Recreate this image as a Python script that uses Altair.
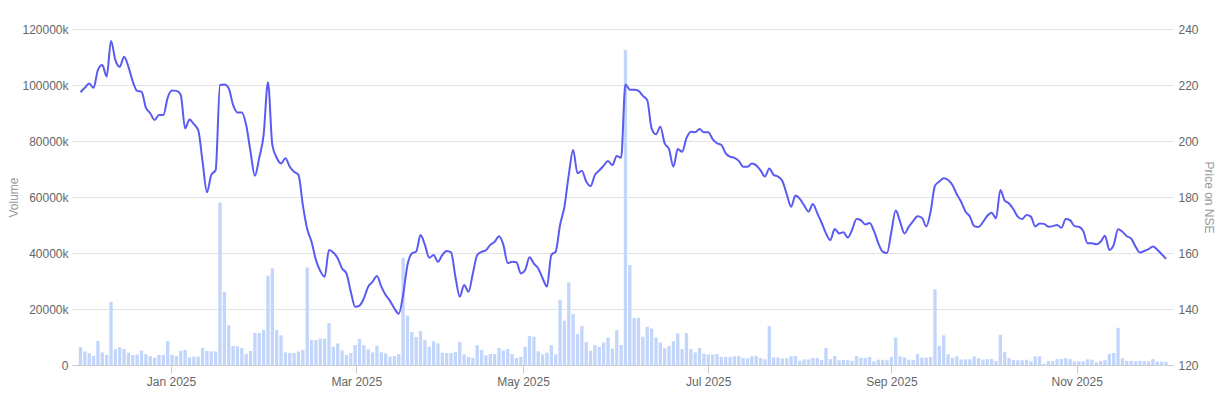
import altair as alt
import pandas as pd

# Daily traded volume (in thousands) for each trading session, Dec 2024 - Nov 2025
volume_k = [
    6400, 4800, 4200, 3300, 8600, 4500, 3600, 22600, 5600, 6300,
    5700, 4400, 3600, 3800, 5100, 3900, 3200, 2600, 3600, 3600,
    8600, 3600, 3200, 5100, 5400, 2700, 3000, 3000, 6100, 5000,
    4900, 4800, 58000, 26100, 14200, 6800, 6700, 6000, 4000, 5000,
    11500, 11400, 12500, 31900, 34500, 12500, 10600, 4500, 4300, 4300,
    4800, 5400, 34800, 8900, 8900, 9400, 9400, 15000, 6500, 7700,
    5200, 3600, 4300, 7100, 9300, 7100, 5600, 4500, 6900, 4500,
    4200, 3000, 3200, 3900, 38300, 17600, 11800, 10000, 12100, 8900,
    6500, 8500, 7700, 4400, 4300, 4300, 4600, 8300, 3800, 2900,
    2600, 7100, 5400, 3500, 3900, 3900, 6100, 5200, 5700, 3900,
    2500, 2900, 6500, 10400, 10100, 4900, 3800, 4400, 7100, 3800,
    23300, 15800, 29500, 18200, 11100, 13900, 8200, 5100, 7100, 6500,
    8000, 9800, 5800, 12500, 7100, 112500, 35700, 16800, 16900, 10100,
    13600, 13000, 9800, 8000, 6000, 6800, 8500, 11300, 5700, 11400,
    5700, 4500, 6100, 4000, 3700, 3700, 3900, 2900, 2900, 2900,
    3100, 3100, 2500, 2400, 3100, 3300, 2500, 2000, 13900, 2700,
    2600, 2300, 2400, 3100, 3200, 1500, 2000, 2000, 2500, 2500,
    1800, 6100, 2100, 3200, 1700, 1800, 1700, 1500, 3200, 2600,
    2500, 2900, 1300, 1900, 1900, 1700, 2900, 9800, 3100, 2700,
    1900, 1800, 3900, 2600, 2600, 2900, 27000, 6800, 10600, 3800,
    2600, 3100, 2000, 2000, 2000, 3100, 2400, 1900, 2100, 2100,
    1400, 10800, 4600, 2500, 1800, 1700, 1700, 1900, 1300, 3100,
    3100, 400, 1400, 1400, 2100, 2100, 2400, 2100, 1300, 1300,
    1300, 2000, 1900, 1000, 1400, 1700, 4000, 4300, 13300, 2400,
    1500, 1500, 1400, 1500, 1400, 1300, 2100, 1200, 1200, 1100,
]

# Closing price on NSE for each trading session
price = [
    217.4, 219.0, 220.5, 219.0, 225.4, 227.1, 223.0, 235.7, 228.9, 226.5,
    230.1, 226.5, 221.2, 217.9, 217.6, 211.9, 209.9, 207.5, 209.3, 209.3,
    215.5, 218.0, 217.9, 216.4, 204.5, 207.7, 206.0, 203.9, 192.6, 181.7,
    187.9, 189.6, 220.0, 220.2, 218.8, 212.9, 210.2, 210.2, 205.7, 196.2,
    187.6, 194.0, 202.1, 221.0, 198.6, 194.0, 192.0, 193.8, 190.8, 189.0,
    187.9, 177.1, 168.6, 164.0, 157.5, 153.6, 151.5, 161.1, 160.2, 158.1,
    154.5, 152.7, 146.2, 140.8, 141.2, 143.8, 148.0, 149.8, 151.8, 148.0,
    145.0, 142.9, 140.2, 138.3, 145.0, 155.7, 159.8, 160.5, 166.4, 162.9,
    158.3, 159.3, 156.9, 159.3, 160.7, 160.2, 151.5, 144.4, 148.6, 146.2,
    152.7, 159.3, 160.4, 161.0, 162.9, 164.0, 166.0, 162.9, 156.4, 156.9,
    156.7, 152.7, 153.9, 158.5, 156.2, 154.5, 151.0, 148.0, 159.3, 160.5,
    170.0, 176.5, 187.9, 196.8, 188.5, 189.4, 185.5, 183.9, 187.9, 189.5,
    191.2, 192.9, 191.4, 194.6, 194.0, 220.2, 218.3, 218.3, 217.9, 216.1,
    214.6, 204.5, 202.4, 205.1, 199.2, 197.1, 190.8, 197.1, 196.2, 201.0,
    203.3, 203.1, 204.3, 203.1, 203.1, 200.7, 199.2, 198.6, 195.6, 194.4,
    194.0, 192.9, 190.8, 190.8, 192.0, 191.3, 189.5, 187.3, 190.2, 187.9,
    187.3, 185.7, 181.0, 176.5, 180.5, 179.3, 177.0, 174.8, 177.5, 174.2,
    170.8, 167.0, 164.6, 168.6, 167.0, 167.4, 165.5, 168.3, 172.1, 171.7,
    170.2, 170.7, 167.9, 163.5, 160.5, 160.0, 167.6, 175.2, 171.2, 167.0,
    169.4, 171.4, 173.1, 172.6, 169.5, 174.8, 184.0, 185.5, 186.7, 186.1,
    184.3, 181.0, 178.3, 174.8, 173.0, 169.6, 169.3, 171.0, 173.3, 174.4,
    172.4, 182.5, 178.7, 177.7, 175.6, 173.0, 172.1, 173.6, 173.0, 169.5,
    170.5, 170.4, 169.4, 169.6, 170.0, 169.0, 172.1, 171.7, 169.6, 169.4,
    167.9, 163.5, 163.5, 163.1, 164.0, 166.2, 161.1, 162.9, 168.5, 167.6,
    166.0, 165.2, 162.3, 160.2, 160.7, 161.4, 162.3, 161.2, 159.6, 157.9,
]

# Month labels and their position on the trading-session axis
tick_index = [20.75, 63.25, 101.5, 144, 186, 228.5]
tick_labels = ["Jan 2025", "Mar 2025", "May 2025", "Jul 2025", "Sep 2025", "Nov 2025"]

volume_ticks = [0, 20000, 40000, 60000, 80000, 100000, 120000]
price_ticks = [120, 140, 160, 180, 200, 220, 240]

n = min(len(volume_k), len(price))
df = pd.DataFrame({"i": list(range(n)), "volume": volume_k[:n], "price": price[:n]})

labels_js = "[" + ",".join(f"'{t}'" for t in tick_labels) + "]"
vals_js = "[" + ",".join(str(v) for v in tick_index) + "]"
x_label_expr = f"{labels_js}[indexof({vals_js}, datum.value)]"

FONT = "Arial"

x_enc = alt.X(
    "i:Q",
    scale=alt.Scale(domain=[-1.95, 250.6], nice=False, zero=False, padding=0),
    axis=alt.Axis(
        values=tick_index, labelExpr=x_label_expr, title=None, grid=False,
        tickSize=8, tickColor="#cccccc", domainColor="#cccccc",
        labelColor="#666666", labelFontSize=12, labelFont=FONT, labelPadding=3,
    ),
)

bars = alt.Chart(df).mark_bar(color="#c2d5fb", size=3.3).encode(
    x=x_enc,
    y=alt.Y(
        "volume:Q",
        scale=alt.Scale(domain=[0, 120000], nice=False),
        axis=alt.Axis(
            orient="left", values=volume_ticks,
            labelExpr="datum.value == 0 ? '0' : format(datum.value, 'd') + 'k'",
            title="Volume", titleColor="#999999", titleFontWeight="normal",
            titleFontSize=12, titleFont=FONT, titlePadding=1,
            grid=True, gridColor="#e3e3e3", ticks=False, domain=False,
            labelColor="#666666", labelFontSize=12, labelFont=FONT, labelPadding=4,
        ),
    ),
)

line = alt.Chart(df).mark_line(color="#5b5bf2", strokeWidth=2, interpolate="monotone").encode(
    x=x_enc,
    y=alt.Y(
        "price:Q",
        scale=alt.Scale(domain=[120, 240], nice=False, zero=False),
        axis=alt.Axis(
            orient="right", values=price_ticks, title="Price on NSE",
            titleColor="#999999", titleFontWeight="normal", titleFontSize=12,
            titleFont=FONT, titlePadding=3,
            grid=False, ticks=False, domain=False,
            labelColor="#666666", labelFontSize=12, labelFont=FONT, labelPadding=5,
        ),
    ),
)

chart = (
    alt.layer(bars, line)
    .resolve_scale(y="independent")
    .properties(
        width=1101, height=336, autosize="none",
        padding={"left": 72, "top": 29, "right": 48, "bottom": 31},
    )
    .configure_view(stroke=None)
)

chart.save("out.html", embed_options={"renderer": "svg", "actions": False})
